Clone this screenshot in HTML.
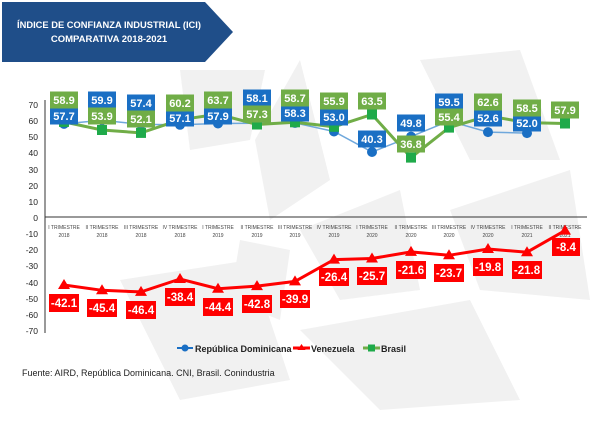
<!DOCTYPE html>
<html><head><meta charset="utf-8"><style>
html,body{margin:0;padding:0;background:#fff;}
svg{display:block;font-family:"Liberation Sans",sans-serif;}
</style></head><body>
<svg width="600" height="427" viewBox="0 0 600 427" xmlns="http://www.w3.org/2000/svg">
<rect width="600" height="427" fill="#fff"/>
<g fill="#f1f1f1">
<polygon points="255,140 300,60 330,180 270,220"/>
<polygon points="180,70 265,70 250,140 190,150"/>
<polygon points="300,230 400,190 420,290 340,300"/>
<polygon points="420,60 520,50 560,160 470,160"/>
<polygon points="450,210 570,170 590,300 480,290"/>
<polygon points="120,280 250,260 290,380 180,400"/>
<polygon points="300,330 470,300 520,400 380,410"/>
<polygon points="240,240 290,250 280,320 230,300"/>
</g>
<polygon points="2,2 205,2 233,32 205,62 2,62" fill="#1f4e89"/>
<text x="109" y="28" fill="#fff" font-size="9.5" font-weight="bold" text-anchor="middle" textLength="184" lengthAdjust="spacingAndGlyphs">ÍNDICE DE CONFIANZA INDUSTRIAL (ICI)</text>
<text x="109" y="42" fill="#fff" font-size="9.5" font-weight="bold" text-anchor="middle">COMPARATIVA 2018-2021</text>
<line x1="45" y1="100" x2="45" y2="333" stroke="#333" stroke-width="1"/>
<line x1="45" y1="217" x2="587" y2="217" stroke="#333" stroke-width="1"/>
<g font-size="8.5" fill="#222" text-anchor="end">
<text x="38" y="108">70</text><text x="38" y="124">60</text><text x="38" y="140">50</text><text x="38" y="156">40</text><text x="38" y="173">30</text><text x="38" y="189">20</text><text x="38" y="205">10</text><text x="38" y="221">0</text><text x="38" y="237">-10</text><text x="38" y="253">-20</text><text x="38" y="269">-30</text><text x="38" y="286">-40</text><text x="38" y="302">-50</text><text x="38" y="318">-60</text><text x="38" y="334">-70</text>
</g>
<g font-size="5" fill="#444" text-anchor="middle">
<text x="64" y="229">I TRIMESTRE</text><text x="64" y="237">2018</text>
<text x="102" y="229">II TRIMESTRE</text><text x="102" y="237">2018</text>
<text x="141" y="229">III TRIMESTRE</text><text x="141" y="237">2018</text>
<text x="180" y="229">IV TRIMESTRE</text><text x="180" y="237">2018</text>
<text x="218" y="229">I TRIMESTRE</text><text x="218" y="237">2019</text>
<text x="257" y="229">II TRIMESTRE</text><text x="257" y="237">2019</text>
<text x="295" y="229">III TRIMESTRE</text><text x="295" y="237">2019</text>
<text x="334" y="229">IV TRIMESTRE</text><text x="334" y="237">2019</text>
<text x="372" y="229">I TRIMESTRE</text><text x="372" y="237">2020</text>
<text x="411" y="229">II TRIMESTRE</text><text x="411" y="237">2020</text>
<text x="449" y="229">III TRIMESTRE</text><text x="449" y="237">2020</text>
<text x="488" y="229">IV TRIMESTRE</text><text x="488" y="237">2020</text>
<text x="527" y="229">I TRIMESTRE</text><text x="527" y="237">2021</text>
<text x="565" y="229">II TRIMESTRE</text><text x="565" y="237">2021</text>
</g>
<polyline fill="none" stroke="#6fa8dc" stroke-width="1.5" points="64,123.9 102,120.3 141,124.4 180,124.8 218,123.5 257,123.2 295,122.9 334,131.5 372,152 411,136.6 449,121 488,132.1 527,133.1"/>
<g fill="#1a6fc4">
<circle cx="64" cy="123.9" r="5"/><circle cx="102" cy="120.3" r="5"/><circle cx="141" cy="124.4" r="5"/><circle cx="180" cy="124.8" r="5"/><circle cx="218" cy="123.5" r="5"/><circle cx="257" cy="123.2" r="5"/><circle cx="295" cy="122.9" r="5"/><circle cx="334" cy="131.5" r="5"/><circle cx="372" cy="152" r="5"/><circle cx="411" cy="136.6" r="5"/><circle cx="449" cy="121" r="5"/><circle cx="488" cy="132.1" r="5"/><circle cx="527" cy="133.1" r="5"/>
</g>
<polyline fill="none" stroke="#70ad47" stroke-width="3" points="64,121.9 102,130 141,132.9 180,119.8 218,114.2 257,124.5 295,122.3 334,126.8 372,114.5 411,157.6 449,127.6 488,115.9 527,122.6 565,123.5"/>
<g fill="#1faa4a">
<rect x="59" y="116.9" width="10" height="10"/><rect x="97" y="125" width="10" height="10"/><rect x="136" y="127.9" width="10" height="10"/><rect x="175" y="114.8" width="10" height="10"/><rect x="213" y="109.2" width="10" height="10"/><rect x="252" y="119.5" width="10" height="10"/><rect x="290" y="117.3" width="10" height="10"/><rect x="329" y="121.8" width="10" height="10"/><rect x="367" y="109.5" width="10" height="10"/><rect x="406" y="152.6" width="10" height="10"/><rect x="444" y="122.6" width="10" height="10"/><rect x="483" y="110.9" width="10" height="10"/><rect x="522" y="117.6" width="10" height="10"/><rect x="560" y="118.5" width="10" height="10"/>
</g>
<polyline fill="none" stroke="#ff0000" stroke-width="3" points="64,285 102,290.3 141,291.9 180,279 218,288.7 257,286.1 295,281.4 334,259.6 372,258.5 411,251.9 449,255.3 488,249 527,252.2 565,230.6"/>
<g fill="#ff0000">
<polygon points="64,279 58,289 70,289"/><polygon points="102,284.3 96,294.3 108,294.3"/><polygon points="141,285.9 135,295.9 147,295.9"/><polygon points="180,273 174,283 186,283"/><polygon points="218,282.7 212,292.7 224,292.7"/><polygon points="257,280.1 251,290.1 263,290.1"/><polygon points="295,275.4 289,285.4 301,285.4"/><polygon points="334,253.6 328,263.6 340,263.6"/><polygon points="372,252.5 366,262.5 378,262.5"/><polygon points="411,245.9 405,255.9 417,255.9"/><polygon points="449,249.3 443,259.3 455,259.3"/><polygon points="488,243 482,253 494,253"/><polygon points="527,246.2 521,256.2 533,256.2"/><polygon points="565,224.6 559,234.6 571,234.6"/>
</g>
<g font-size="11" font-weight="bold" fill="#fff" text-anchor="middle">
<g>
<rect x="50" y="107.5" width="28" height="17" fill="#1a6fc4"/><text x="64" y="120">57.7</text>
<rect x="88" y="91.5" width="28" height="17" fill="#1a6fc4"/><text x="102" y="104">59.9</text>
<rect x="127" y="94.5" width="28" height="17" fill="#1a6fc4"/><text x="141" y="107">57.4</text>
<rect x="166" y="109.5" width="28" height="17" fill="#1a6fc4"/><text x="180" y="122">57.1</text>
<rect x="204" y="107.5" width="28" height="17" fill="#1a6fc4"/><text x="218" y="120">57.9</text>
<rect x="243" y="89.5" width="28" height="17" fill="#1a6fc4"/><text x="257" y="102">58.1</text>
<rect x="281" y="104.5" width="28" height="17" fill="#1a6fc4"/><text x="295" y="117">58.3</text>
<rect x="320" y="108.5" width="28" height="17" fill="#1a6fc4"/><text x="334" y="121">53.0</text>
<rect x="358" y="130.5" width="28" height="17" fill="#1a6fc4"/><text x="372" y="143">40.3</text>
<rect x="397" y="114.5" width="28" height="17" fill="#1a6fc4"/><text x="411" y="127">49.8</text>
<rect x="435" y="93.5" width="28" height="17" fill="#1a6fc4"/><text x="449" y="106">59.5</text>
<rect x="474" y="109.5" width="28" height="17" fill="#1a6fc4"/><text x="488" y="122">52.6</text>
<rect x="513" y="114.5" width="28" height="17" fill="#1a6fc4"/><text x="527" y="127">52.0</text>
</g>
<g>
<rect x="50" y="91.5" width="28" height="17" fill="#70ad47"/><text x="64" y="104">58.9</text>
<rect x="88" y="107.5" width="28" height="17" fill="#70ad47"/><text x="102" y="120">53.9</text>
<rect x="127" y="110.5" width="28" height="17" fill="#70ad47"/><text x="141" y="123">52.1</text>
<rect x="166" y="94.5" width="28" height="17" fill="#70ad47"/><text x="180" y="107">60.2</text>
<rect x="204" y="91.5" width="28" height="17" fill="#70ad47"/><text x="218" y="104">63.7</text>
<rect x="243" y="105.5" width="28" height="17" fill="#70ad47"/><text x="257" y="118">57.3</text>
<rect x="281" y="89.5" width="28" height="17" fill="#70ad47"/><text x="295" y="102">58.7</text>
<rect x="320" y="92.5" width="28" height="17" fill="#70ad47"/><text x="334" y="105">55.9</text>
<rect x="358" y="92.5" width="28" height="17" fill="#70ad47"/><text x="372" y="105">63.5</text>
<rect x="397" y="135.5" width="28" height="17" fill="#70ad47"/><text x="411" y="148">36.8</text>
<rect x="435" y="108.5" width="28" height="17" fill="#70ad47"/><text x="449" y="121">55.4</text>
<rect x="474" y="93.5" width="28" height="17" fill="#70ad47"/><text x="488" y="106">62.6</text>
<rect x="513" y="99.5" width="28" height="17" fill="#70ad47"/><text x="527" y="112">58.5</text>
<rect x="551" y="101.5" width="28" height="17" fill="#70ad47"/><text x="565" y="114">57.9</text>
</g>
<g font-size="11.5">
<rect x="49" y="294" width="30" height="18" fill="#ff0000"/><text x="64" y="307">-42.1</text>
<rect x="87" y="299" width="30" height="18" fill="#ff0000"/><text x="102" y="312">-45.4</text>
<rect x="126" y="301" width="30" height="18" fill="#ff0000"/><text x="141" y="314">-46.4</text>
<rect x="165" y="288" width="30" height="18" fill="#ff0000"/><text x="180" y="301">-38.4</text>
<rect x="203" y="298" width="30" height="18" fill="#ff0000"/><text x="218" y="311">-44.4</text>
<rect x="242" y="295" width="30" height="18" fill="#ff0000"/><text x="257" y="308">-42.8</text>
<rect x="280" y="290" width="30" height="18" fill="#ff0000"/><text x="295" y="303">-39.9</text>
<rect x="319" y="268" width="30" height="18" fill="#ff0000"/><text x="334" y="281">-26.4</text>
<rect x="357" y="267" width="30" height="18" fill="#ff0000"/><text x="372" y="280">-25.7</text>
<rect x="396" y="261" width="30" height="18" fill="#ff0000"/><text x="411" y="274">-21.6</text>
<rect x="434" y="264" width="30" height="18" fill="#ff0000"/><text x="449" y="277">-23.7</text>
<rect x="473" y="258" width="30" height="18" fill="#ff0000"/><text x="488" y="271">-19.8</text>
<rect x="512" y="261" width="30" height="18" fill="#ff0000"/><text x="527" y="274">-21.8</text>
<rect x="552" y="238" width="28" height="18" fill="#ff0000"/><text x="566" y="251">-8.4</text>
</g>
</g>
<line x1="177" y1="348" x2="193" y2="348" stroke="#1a6fc4" stroke-width="2"/><circle cx="185" cy="348" r="3.5" fill="#1a6fc4"/>
<text x="195" y="352" font-size="9" font-weight="bold" fill="#222">República Dominicana</text>
<line x1="293" y1="348" x2="310" y2="348" stroke="#ff0000" stroke-width="3"/><polygon points="301.5,344 297.5,350 305.5,350" fill="#ff0000"/>
<text x="311" y="352" font-size="9" font-weight="bold" fill="#222">Venezuela</text>
<line x1="363" y1="348" x2="380" y2="348" stroke="#70ad47" stroke-width="3"/><rect x="368" y="344.5" width="7" height="7" fill="#1faa4a"/>
<text x="381" y="352" font-size="9" font-weight="bold" fill="#222">Brasil</text>
<text x="22" y="376" font-size="9" fill="#222">Fuente: AIRD, República Dominicana. CNI, Brasil. Conindustria</text>
</svg>
</body></html>
